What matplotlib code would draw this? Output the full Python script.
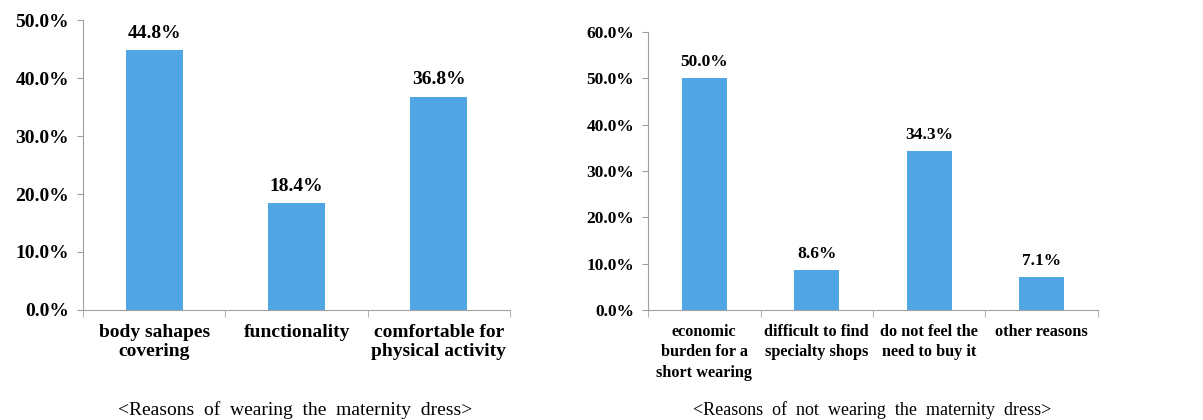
import numpy as np
import matplotlib.pyplot as plt
from matplotlib.ticker import FuncFormatter, FixedLocator

plt.rcParams['font.family'] = ['Liberation Serif', 'DejaVu Serif']

wear_labels = ['body sahapes\ncovering', 'functionality', 'comfortable for\nphysical activity']
wear_vals = [44.8, 18.4, 36.8]

notwear_labels = ['economic\nburden for a\nshort wearing', 'difficult to find\nspecialty shops',
                  'do not feel the\nneed to buy it', 'other reasons']
notwear_vals = [50.0, 8.6, 34.3, 7.1]

bar_color = '#50a6e3'
axis_color = '#a0a0a0'

fig = plt.figure(figsize=(12.03, 4.2), dpi=100)
ax1 = fig.add_axes([0.069, 0.262, 0.355, 0.690])
ax2 = fig.add_axes([0.5387, 0.262, 0.374, 0.662])


def draw(ax, labels, vals, ymax, fs, xfs, ls):
    n = len(vals)
    ind = np.arange(n)
    ax.bar(ind, vals, width=0.4, color=bar_color, align='center')
    ax.set_xlim(-0.5, n - 0.5)
    ax.set_ylim(0, ymax)
    ax.set_yticks(np.arange(0, ymax + 0.1, 10))
    ax.yaxis.set_major_formatter(FuncFormatter(lambda v, p: '%.1f%%' % v))
    ax.set_xticks(ind)
    ax.set_xticklabels(labels, fontsize=xfs, fontweight='bold', linespacing=ls, va='top')
    ax.xaxis.set_minor_locator(FixedLocator(np.arange(-0.5, n, 1.0)))
    ax.tick_params(axis='x', which='major', length=0, pad=10)
    ax.tick_params(axis='x', which='minor', length=5, color=axis_color, direction='out')
    ax.tick_params(axis='y', length=4, color=axis_color, labelsize=fs, pad=6)
    for t in ax.get_yticklabels():
        t.set_fontweight('bold')
    for s in ['top', 'right']:
        ax.spines[s].set_visible(False)
    for s in ['left', 'bottom']:
        ax.spines[s].set_color(axis_color)
    for x, v in zip(ind, vals):
        ax.annotate('%.1f%%' % v, (x, v), xytext=(0, 6), textcoords='offset points',
                    ha='center', va='bottom', fontsize=fs, fontweight='bold')


draw(ax1, wear_labels, wear_vals, 50, 14, 14, 1.2)
draw(ax2, notwear_labels, notwear_vals, 60, 12.5, 11.7, 1.38)

fig.text(295 / 1203, 1 - 410 / 420, '<Reasons  of  wearing  the  maternity  dress>',
         ha='center', va='center', fontsize=14)
fig.text(872 / 1203, 1 - 410 / 420, '<Reasons  of  not  wearing  the  maternity  dress>',
         ha='center', va='center', fontsize=13)

fig.savefig('out.png', dpi=100)
